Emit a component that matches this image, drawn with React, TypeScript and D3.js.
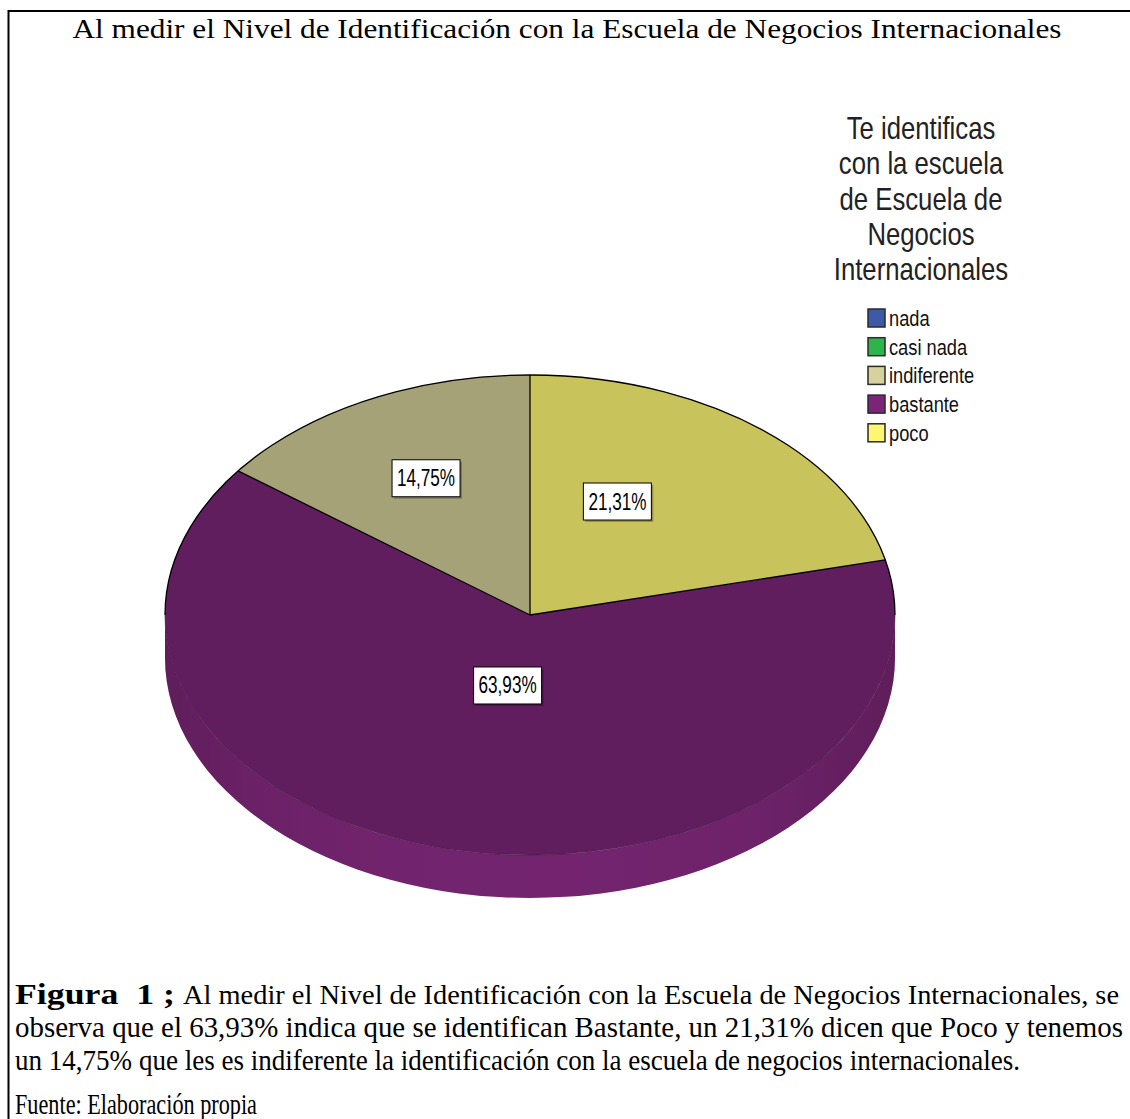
import React from 'react';
import * as d3 from 'd3';

// ---------- data ----------
const chartTitle = 'Al medir el Nivel de Identificación con la Escuela de Negocios Internacionales';
const legendTitleLines = ['Te identificas', 'con la escuela', 'de Escuela de', 'Negocios', 'Internacionales'];
const categories = ['nada', 'casi nada', 'indiferente', 'bastante', 'poco'];
const counts = [0, 0, 9, 39, 13];
const legendColors = ['#3d5aa8', '#2db44b', '#d6d19d', '#7b2479', '#fdf76f'];
const faceColors = ['#3d5aa8', '#2db44b', '#a6a277', '#611e5f', '#c8c35b'];
const sideColors = ['#33509a', '#28a243', '#959168', '#74246f', '#b5b04f'];
// label placement (layout): fraction along slice angle, fraction of radius
const labelAngleFrac = [0.5, 0.5, 0.5, 0.5, 0.65];
const labelRadiusFrac = [0.5, 0.5, 0.637, 0.3, 0.53];
const captionBold = 'Figura  1 ;';
const captionLine1 = 'Al medir el Nivel de Identificación con la Escuela de Negocios Internacionales, se';
const captionLine2 = 'observa que el 63,93% indica que se identifican Bastante, un 21,31% dicen que Poco y tenemos';
const captionLine3 = 'un 14,75% que les es indiferente la identificación con la escuela de negocios internacionales.';
const sourceLine = 'Fuente: Elaboración propia';

const W = 1130;
const H = 1119;
const cx = 530;
const cy = 615;
const rx = 365;
const ry = 240;
const depth = 43;

const SANS = "'Liberation Sans', Arial, sans-serif";
const SERIF = "'Liberation Serif', 'Times New Roman', serif";

const locale = d3.formatLocale({ decimal: ',', thousands: '.', grouping: [3], currency: ['', '€'] });
const fmtPct = locale.format('.2f');

function pt(theta: number, dy = 0): [number, number] {
  return [cx + rx * Math.sin(theta), cy - ry * Math.cos(theta) + dy];
}

export default function App() {
  const total = d3.sum(counts);
  const pie = d3.pie<number>().sort(null).startAngle(0).endAngle(-2 * Math.PI);
  const arcs = pie(counts);
  const arcGen = d3.arc<d3.PieArcDatum<number>>().innerRadius(0).outerRadius(rx);

  const sides: { d: string; i: number }[] = [];
  arcs.forEach((a, i) => {
    if (a.value <= 0) return;
    const lo = Math.min(a.startAngle, a.endAngle) + 2 * Math.PI;
    const hi = Math.max(a.startAngle, a.endAngle) + 2 * Math.PI;
    const s = Math.max(lo, Math.PI / 2);
    const e = Math.min(hi, (3 * Math.PI) / 2);
    if (e <= s) return;
    const p0 = pt(s);
    const p1 = pt(e);
    const large = e - s > Math.PI ? 1 : 0;
    const d = `M${p0[0]},${p0[1]} A${rx},${ry} 0 ${large} 1 ${p1[0]},${p1[1]} L${p1[0]},${p1[1] + depth} A${rx},${ry} 0 ${large} 0 ${p0[0]},${p0[1] + depth} Z`;
    sides.push({ d, i });
  });

  const boundaries: number[] = [];
  arcs.forEach((a) => {
    if (a.value > 0) boundaries.push(a.startAngle);
  });

  const labelItems = arcs
    .map((a, i) => {
      if (a.value <= 0) return null;
      const ang = a.startAngle + (a.endAngle - a.startAngle) * labelAngleFrac[i];
      const r = rx * labelRadiusFrac[i];
      const x = cx + r * Math.sin(ang);
      const y = cy - r * Math.cos(ang) * (ry / rx);
      return { x, y, text: fmtPct((a.value / total) * 100) + '%' };
    })
    .filter(Boolean) as { x: number; y: number; text: string }[];

  const legendX = 868;
  const legendY0 = 309;
  const legendStep = 28.7;

  return (
    <div style={{ position: 'absolute', left: 0, top: 0, width: W, height: H, overflow: 'hidden', background: '#fff' }}>
      <svg width={W} height={H} viewBox={`0 0 ${W} ${H}`} style={{ display: 'block' }}>
        <defs>
          <linearGradient id="sideGrad" x1={cx - rx} x2={cx + rx} y1={0} y2={0} gradientUnits="userSpaceOnUse">
            <stop offset="0" stopColor="#000" stopOpacity="0.18" />
            <stop offset="0.12" stopColor="#000" stopOpacity="0.08" />
            <stop offset="0.3" stopColor="#000" stopOpacity="0.02" />
            <stop offset="0.55" stopColor="#000" stopOpacity="0" />
            <stop offset="0.8" stopColor="#000" stopOpacity="0.05" />
            <stop offset="1" stopColor="#000" stopOpacity="0.18" />
          </linearGradient>
        </defs>
        <rect x={0} y={0} width={W} height={H} fill="#fff" />
        <path d={`M8.5,${H} L8.5,11 L${W},11`} fill="none" stroke="#000" strokeWidth={2} />

        <text x={567} y={38} textAnchor="middle" fontFamily={SERIF} fontSize={28} fill="#000" textLength={989} lengthAdjust="spacingAndGlyphs">
          {chartTitle}
        </text>

        {sides.map((s) => (
          <g key={'side' + s.i}>
            <path d={s.d} fill={sideColors[s.i]} />
            <path d={s.d} fill="url(#sideGrad)" />
          </g>
        ))}

        <g transform={`translate(${cx},${cy}) scale(1,${ry / rx})`}>
          {arcs.map((a, i) =>
            a.value > 0 ? <path key={'top' + i} d={arcGen(a) || ''} fill={faceColors[i]} stroke="none" /> : null
          )}
        </g>
        <path d={`M${cx + rx},${cy} A${rx},${ry} 0 0 1 ${cx - rx},${cy}`} fill="none" stroke="#4a1547" strokeWidth={1} strokeOpacity={0.6} />
        <path d={`M${cx - rx},${cy} A${rx},${ry} 0 0 1 ${cx + rx},${cy}`} fill="none" stroke="#000" strokeWidth={1.3} />
        {boundaries.map((b, i) => {
          const p = pt(b);
          return <line key={'b' + i} x1={cx} y1={cy} x2={p[0]} y2={p[1]} stroke="#000" strokeWidth={1.3} />;
        })}

        {labelItems.map((l, i) => {
          const bw = 68;
          const bh = 37;
          return (
            <g key={'lab' + i}>
              <rect x={l.x - bw / 2 + 2} y={l.y - bh / 2 + 2} width={bw} height={bh} fill="#000" fillOpacity={0.25} />
              <rect x={l.x - bw / 2} y={l.y - bh / 2} width={bw} height={bh} fill="#fff" stroke="#000" strokeWidth={1} />
              <text x={l.x} y={l.y + 8} textAnchor="middle" fontFamily={SANS} fontSize={24} fill="#000" textLength={58} lengthAdjust="spacingAndGlyphs">
                {l.text}
              </text>
            </g>
          );
        })}

        {legendTitleLines.map((t, i) => (
          <text key={'lt' + i} x={921} y={139 + i * 35.3} textAnchor="middle" fontFamily={SANS} fontSize={31} fill="#222" transform={`translate(${921},0) scale(0.83,1) translate(${-921},0)`}>
            {t}
          </text>
        ))}

        {categories.map((c, i) => {
          const y = legendY0 + i * legendStep;
          return (
            <g key={'lg' + i}>
              <rect x={legendX} y={y} width={17} height={18} fill={legendColors[i]} stroke="#2a2a2a" strokeWidth={1.5} />
              <text x={889} y={y + 17} fontFamily={SANS} fontSize={22} fill="#111" transform={`translate(889,0) scale(0.83,1) translate(-889,0)`}>
                {c}
              </text>
            </g>
          );
        })}

        <text x={15} y={1004} fontFamily={SERIF} fontSize={29} fontWeight="bold" fill="#000" textLength={160} lengthAdjust="spacingAndGlyphs" style={{ whiteSpace: 'pre' }}>
          {captionBold}
        </text>
        <text x={183} y={1004} fontFamily={SERIF} fontSize={27} fill="#000" textLength={936} lengthAdjust="spacingAndGlyphs">
          {captionLine1}
        </text>
        <text x={15} y={1037} fontFamily={SERIF} fontSize={29} fill="#000" textLength={1108} lengthAdjust="spacingAndGlyphs">
          {captionLine2}
        </text>
        <text x={15} y={1070} fontFamily={SERIF} fontSize={29} fill="#000" textLength={1005} lengthAdjust="spacingAndGlyphs">
          {captionLine3}
        </text>
        <text x={15} y={1114} fontFamily={SERIF} fontSize={29} fill="#000" textLength={242} lengthAdjust="spacingAndGlyphs">
          {sourceLine}
        </text>
      </svg>
    </div>
  );
}
